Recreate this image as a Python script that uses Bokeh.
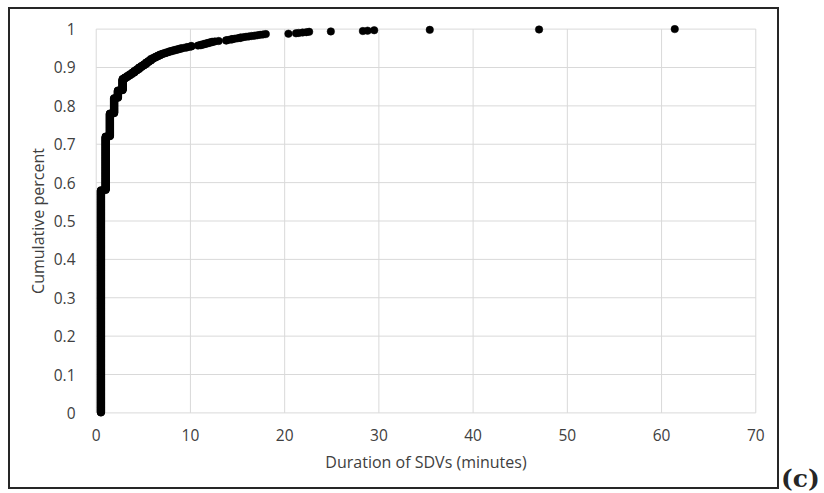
import numpy as np
from bokeh.plotting import figure
from bokeh.layouts import row
from bokeh.models import FixedTicker, Range1d, ColumnDataSource, Div
from bokeh.embed import file_html
from bokeh.resources import INLINE

# SDV durations (minutes) and how many SDVs had each duration
durations = [0.5, 1.0, 1.45, 1.9, 2.3, 2.8,
             3.05, 3.3, 3.55, 3.8, 4.05, 4.3, 4.55, 4.8, 5.05, 5.3, 5.55, 5.8,
             6.05, 6.3, 6.55, 6.8, 7.05, 7.3, 7.55, 7.8, 8.1, 8.4, 8.7, 9.0, 9.3, 9.6, 9.9, 10.1,
             10.8, 11.1, 11.4, 11.7, 12.0, 12.3, 12.6, 13.0,
             13.8, 14.1, 14.4, 14.7, 15.0, 15.3, 15.6, 15.9, 16.2, 16.5, 16.8, 17.1, 17.4, 17.7, 18.0,
             20.4, 21.2, 21.5, 21.9, 22.3, 22.6, 24.9, 28.3, 28.8, 29.5, 35.4, 47.0, 61.4]
counts = [580, 140, 60, 40, 20, 30,
          4, 4, 4, 4, 5, 4, 5, 4, 4, 5, 4, 5,
          3, 3, 3, 3, 2, 2, 2, 2, 2, 2, 2, 2, 1, 2, 1, 2,
          1, 2, 2, 2, 2, 2, 1, 1,
          2, 1, 2, 1, 1, 2, 1, 1, 1, 1, 1, 1, 1, 1, 1,
          1, 1, 1, 1, 1, 1, 1, 1, 1, 1, 1, 1, 1]

x_ticks = [0, 10, 20, 30, 40, 50, 60, 70]
y_ticks = [0, 0.1, 0.2, 0.3, 0.4, 0.5, 0.6, 0.7, 0.8, 0.9, 1.0]
y_tick_labels = ["0", "0.1", "0.2", "0.3", "0.4", "0.5", "0.6", "0.7", "0.8", "0.9", "1"]

x_title = "Duration of SDVs (minutes)"
y_title = "Cumulative percent"
panel_tag = "(c)"

# empirical cumulative distribution
xs = np.repeat(np.array(durations), np.array(counts))
n = len(xs)
ys = np.arange(1, n + 1) / n
src = ColumnDataSource(dict(x=xs, y=ys))

FONT = "Open Sans"
TXT = "#404040"
GRID = "#d9d9d9"

p = figure(width=771, height=482, output_backend="svg", toolbar_location=None,
           x_range=Range1d(-0.5, 70.5), y_range=Range1d(-0.012, 1.012),
           min_border_left=81, min_border_right=21, min_border_top=15, min_border_bottom=74,
           margin=(7, 0, 0, 8),
           styles={"border": "2px solid #262626"})
p.background_fill_color = "white"
p.border_fill_color = "white"
p.outline_line_color = None
p.xgrid.grid_line_color = None
p.ygrid.grid_line_color = None

# gridlines spanning exactly the tick extents
p.segment(x0=x_ticks, y0=[y_ticks[0]] * len(x_ticks), x1=x_ticks, y1=[y_ticks[-1]] * len(x_ticks),
          line_color=GRID, line_width=1)
p.segment(x0=[x_ticks[0]] * len(y_ticks), y0=y_ticks, x1=[x_ticks[-1]] * len(y_ticks), y1=y_ticks,
          line_color=GRID, line_width=1)

p.scatter("x", "y", source=src, size=7.5, fill_color="black", line_color="black", line_width=0.5)

for ax in (p.xaxis[0], p.yaxis[0]):
    ax.axis_line_color = None
    ax.major_tick_line_color = None
    ax.minor_tick_line_color = None
    ax.major_tick_out = 0
    ax.major_tick_in = 0
    ax.major_label_text_font = FONT
    ax.major_label_text_font_size = "15.5px"
    ax.major_label_text_color = TXT
    ax.axis_label_text_font = FONT
    ax.axis_label_text_font_size = "16px"
    ax.axis_label_text_font_style = "normal"
    ax.axis_label_text_color = TXT

p.xaxis.ticker = FixedTicker(ticks=x_ticks)
p.yaxis.ticker = FixedTicker(ticks=y_ticks)
p.yaxis.major_label_overrides = {t: l for t, l in zip(y_ticks, y_tick_labels)}
p.xaxis.axis_label = x_title
p.yaxis.axis_label = y_title
p.xaxis.major_label_standoff = 11
p.xaxis.axis_label_standoff = 7
p.yaxis.major_label_standoff = 16
p.yaxis.axis_label_standoff = 2

tag = Div(text=panel_tag, width=42, height=26, margin=(466, 0, 0, 2),
          styles={"font-family": "DejaVu Serif", "font-weight": "bold", "font-size": "25px",
                  "color": "#262626", "line-height": "26px"})

layout = row(p, tag)
open("out.html", "w").write(file_html(layout, INLINE))
